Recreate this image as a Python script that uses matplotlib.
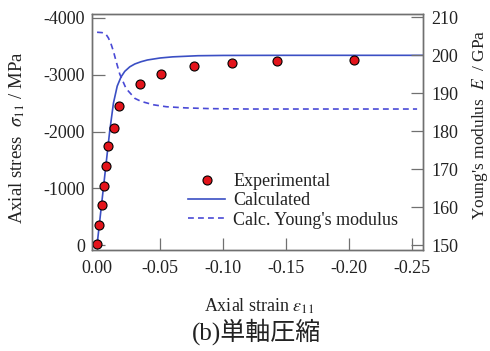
import matplotlib
matplotlib.use("Agg")
import matplotlib.pyplot as plt
from matplotlib.ticker import FormatStrFormatter, MultipleLocator

plt.rcParams['font.family'] = ['Liberation Serif', 'Noto Sans CJK JP']
plt.rcParams['mathtext.fontset'] = 'stix'
plt.rcParams['axes.unicode_minus'] = False

# experimental points (strain, stress MPa)
exp_strain = [0.0, -0.0018, -0.0037, -0.0058, -0.0071, -0.009, -0.0135, -0.0177,
              -0.034, -0.051, -0.0767, -0.107, -0.1426, -0.2042]
exp_stress = [-10, -358, -705, -1045, -1397, -1750, -2056, -2455,
              -2832, -3008, -3154, -3207, -3237, -3260]

# calculated stress curve
calc_strain = [0.0, -0.005, -0.010, -0.013, -0.016, -0.019, -0.022, -0.026, -0.030,
               -0.035, -0.040, -0.050, -0.060, -0.080, -0.10, -0.15, -0.20, -0.26]
calc_stress = [0, -1000, -2000, -2500, -2800, -2960, -3060, -3140, -3190,
               -3230, -3260, -3295, -3315, -3335, -3340, -3342, -3342, -3342]

# calculated Young's modulus (GPa)
E_strain = [0.0, -0.004, -0.007, -0.009, -0.011, -0.013, -0.015, -0.018, -0.023,
            -0.030, -0.035, -0.045, -0.055, -0.070, -0.090, -0.120, -0.254]
E_val = [206.0, 205.9, 205.5, 204.5, 203.0, 201.0, 198.5, 195.0, 191.2,
         188.6, 187.8, 186.9, 186.4, 186.1, 185.9, 185.8, 185.8]

caption = '(b)単軸圧縮'

blue = '#3b4fc4'
dash_blue = '#4a4ad6'
grey = '#707070'
txt = '#222222'

fig = plt.figure(figsize=(4.9, 3.51), dpi=100)
ax = fig.add_axes([0.1878, 0.2877, 0.6755, 0.6724])
ax2 = ax.twinx()

l2, = ax.plot(calc_strain, calc_stress, color=blue, lw=1.2, label='Calculated')
l1, = ax.plot(exp_strain, exp_stress, 'o', ms=6.5, mfc='#e3141b', mec='black',
              mew=0.8, label='Experimental', zorder=5)
l3, = ax2.plot(E_strain, E_val, '--', color=dash_blue, lw=1.2, dashes=(3.5, 2.5),
               label="Calc. Young's modulus")

ax.set_xlim(0.004, -0.2587)
ax.set_ylim(88, -4070)
ax2.set_ylim(148.7, 210.8)

ax.xaxis.set_major_locator(MultipleLocator(0.05))
ax.xaxis.set_major_formatter(FormatStrFormatter('%.2f'))
ax.yaxis.set_major_locator(MultipleLocator(1000))
ax2.yaxis.set_major_locator(MultipleLocator(10))

for a in (ax, ax2):
    a.tick_params(direction='in', length=9, width=0.9, color=grey,
                  labelsize=13, labelcolor=txt)
    for s in a.spines.values():
        s.set_color(grey)
        s.set_linewidth(1.0)
ax.tick_params(axis='x', pad=7)
ax.tick_params(axis='y', pad=5)
ax2.tick_params(axis='y', pad=6)

ax.set_xlabel(r'Axial strain $\varepsilon_{11}$', fontsize=13, va='center', color=txt)
ax.xaxis.set_label_coords(0.505, -0.24)
ax.set_ylabel(r'Axial stress  $\sigma_{11}$ / MPa', fontsize=13.5, va='center', color=txt)
ax.yaxis.set_label_coords(-0.226, 0.475)
ax2.set_ylabel(r"Young's modulus  $E$  / GPa", fontsize=12.5, va='center',
               rotation=90, color=txt)
ax2.yaxis.set_label_coords(1.172, 0.53)

ax.legend([l1, l2, l3], [l1.get_label(), l2.get_label(), l3.get_label()],
          loc='upper left', bbox_to_anchor=(0.29, 0.325), frameon=False,
          fontsize=13, borderpad=0, borderaxespad=0, handlelength=2.05,
          handletextpad=0.45, labelspacing=0.12, labelcolor=txt)

fig.text(256 / 490, 0.056, caption, ha='center', va='center', fontsize=18, color=txt)

fig.savefig('out.png', dpi=100)
